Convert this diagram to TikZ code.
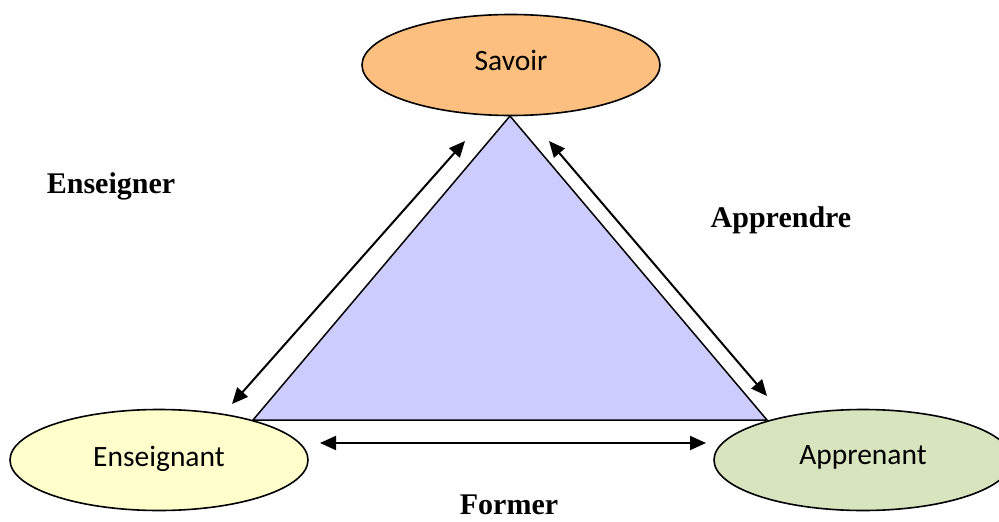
\documentclass[tikz,border=0pt]{standalone}
\usepackage{fontspec}
\setmainfont{Carlito}
\newfontfamily\lblfont{Liberation Serif}
\usetikzlibrary{arrows.meta,shapes.geometric}
\definecolor{savoirc}{HTML}{FDBF80}
\definecolor{enseignc}{HTML}{FFFFCC}
\definecolor{apprenc}{HTML}{D7E4BD}
\definecolor{trianc}{HTML}{CCCCFF}
\tikzset{
  pole/.style={ellipse, draw=black, line width=1.6pt, minimum width=298pt, minimum height=101pt, inner sep=0pt, font=\fontsize{29.5}{34}\selectfont},
  verb/.style={anchor=base, inner sep=0pt, font=\lblfont\bfseries\fontsize{30}{34}\selectfont},
  dbl/.style={line width=2pt, {Triangle[length=16pt,width=14pt]}-{Triangle[length=16pt,width=14pt]}},
  tri/.style={fill=trianc, draw=black, line width=1.5pt}
}
\newcommand{\up}[2]{\raisebox{#1pt}{#2}}
\begin{document}
\begin{tikzpicture}[x=1pt,y=-1pt]
\useasboundingbox (0,0) rectangle (999,522);
\clip (0,0) rectangle (999,522);
\node[pole, fill=savoirc] (sav) at (511,65) {\up{9}{Savoir}};
\node[pole, fill=enseignc] (ens) at (159,460) {\up{8}{Enseignant}};
\node[pole, fill=apprenc] (app) at (863,460) {\up{9}{Apprenant}};
\coordinate (tA) at (510,116);
\coordinate (tL) at (253,420);
\coordinate (tR) at (767,420);
\draw[tri] (tA) -- (tL) -- (tR) -- cycle;
\coordinate (a1) at (465,141);
\coordinate (a2) at (232,404);
\coordinate (b1) at (549,141);
\coordinate (b2) at (767,396);
\coordinate (c1) at (320,443);
\coordinate (c2) at (706,443);
\draw[dbl] (a1) -- (a2);
\draw[dbl] (b1) -- (b2);
\draw[dbl] (c1) -- (c2);
\node[verb] (l1) at (111,193) {Enseigner};
\node[verb] (l2) at (781,227) {Apprendre};
\node[verb] (l3) at (509,514) {Former};
\end{tikzpicture}
\end{document}
